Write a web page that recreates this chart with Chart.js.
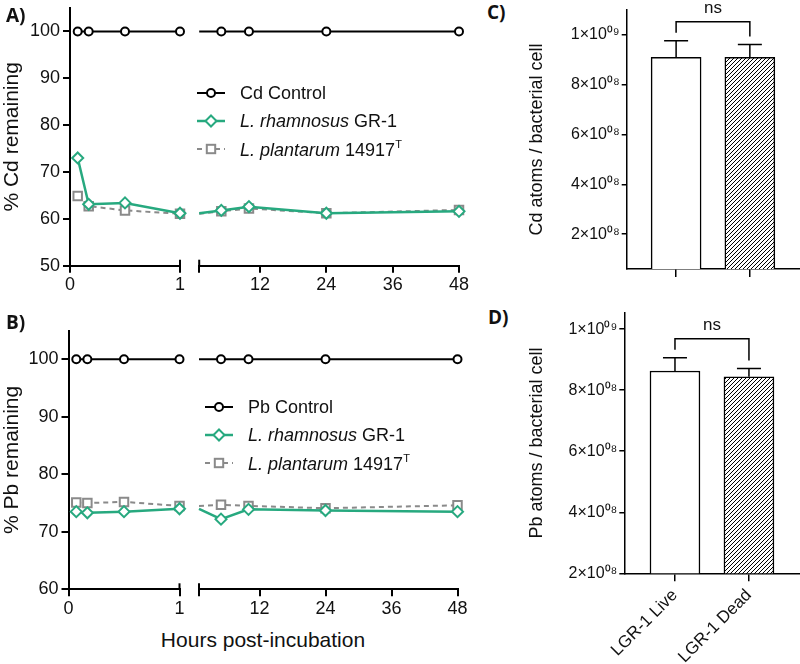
<!DOCTYPE html>
<html>
<head>
<meta charset="utf-8">
<script src="https://cdn.jsdelivr.net/npm/chart.js@4.4.0/dist/chart.umd.min.js"></script>
<style>
  body { margin: 0; background: #fff; font-family: 'Liberation Sans', Arial, sans-serif; color: #111; }
  #wrap { position: relative; width: 800px; height: 664px; overflow: hidden; }
  .box { position: absolute; }
  .tag { position: absolute; font: bold 19px 'Open Sans', sans-serif; line-height: 22px; }
  .legend { position: absolute; font-size: 18px; }
  .legend .row { height: 28px; display: flex; align-items: center; white-space: nowrap; }
  .legend svg { flex: none; }
  .legend sup { font-size: 11px; vertical-align: 8px; }
  .xtitle { position: absolute; left: 113px; top: 627px; width: 300px; text-align: center; font-size: 21px; line-height: 26px; }
</style>
</head>
<body>
<div id="wrap">
  <div class="box" id="boxA1"><canvas id="chartA1"></canvas></div>
  <div class="box" id="boxA2"><canvas id="chartA2"></canvas></div>
  <div class="box" id="boxB1"><canvas id="chartB1"></canvas></div>
  <div class="box" id="boxB2"><canvas id="chartB2"></canvas></div>
  <div class="box" id="boxC"><canvas id="chartC"></canvas></div>
  <div class="box" id="boxD"><canvas id="chartD"></canvas></div>

  <div class="tag" style="left:6px;top:4px">A)</div>
  <div class="tag" style="left:6px;top:311px">B)</div>
  <div class="tag" style="left:487px;top:1px">C)</div>
  <div class="tag" style="left:488px;top:306px">D)</div>

  <div class="legend" id="legendA" style="left:197px;top:79px"></div>
  <div class="legend" id="legendB" style="left:205px;top:393px"></div>
  <div class="xtitle">Hours post-incubation</div>
</div>

<script>
// time course (hours after incubation)
const hours = [0.07, 0.17, 0.5, 1, 5, 10, 24, 48];
const cdControl = [100, 100, 100, 100, 100, 100, 100, 100];
const cdRhamnosus = [73.0, 63.1, 63.4, 61.2, 61.8, 62.6, 61.2, 61.6];
const cdPlantarum = [64.9, 62.7, 61.8, 61.1, 61.6, 62.2, 61.2, 61.9];
const pbControl = [100, 100, 100, 100, 100, 100, 100, 100];
const pbRhamnosus = [73.5, 73.3, 73.5, 74.0, 72.2, 73.9, 73.7, 73.5];
const pbPlantarum = [75.1, 75.0, 75.2, 74.5, 74.7, 74.5, 74.1, 74.6];

const firstSegmentTicks = [0, 1];
const secondSegmentTicks = [1, 12, 24, 36, 48];
const cdTicks = [50, 60, 70, 80, 90, 100];
const pbTicks = [60, 70, 80, 90, 100];

// atoms per bacterial cell
const groups = ['LGR-1 Live', 'LGR-1 Dead'];
const cdAtoms = [9.1e8, 9.1e8];
const cdAtomsErr = [0.67e8, 0.51e8];
const pbAtoms = [8.63e8, 8.44e8];
const pbAtomsErr = [0.43e8, 0.27e8];
const atomTicks = [2e8, 4e8, 6e8, 8e8, 1e9];
const atomTickLabels = ['2×10⁰⁸', '4×10⁰⁸', '6×10⁰⁸', '8×10⁰⁸', '1×10⁰⁹'];

const GREEN = '#27a97f';
const GREY = '#8a8a8a';
const INK = '#111';
const FONT = "'Liberation Sans', Arial, sans-serif";

Chart.defaults.font.family = FONT;
Chart.defaults.color = INK;
Chart.defaults.animation = false;

function place(id, left, top, width, height) {
  const el = document.getElementById(id);
  el.style.left = left + 'px';
  el.style.top = top + 'px';
  el.style.width = width + 'px';
  el.style.height = height + 'px';
}

function seriesFor(metal, control, rhamnosus, plantarum) {
  return [
    { label: metal + ' Control', values: control, color: '#000', width: 2, dash: [], marker: 'circle', radius: 4 },
    { label: 'L. rhamnosus GR-1', values: rhamnosus, color: GREEN, width: 2.5, dash: [], marker: 'rectRot', radius: 5.5 },
    { label: 'L. plantarum 14917T', values: plantarum, color: GREY, width: 2, dash: [5, 4], marker: 'rect', radius: 6 },
  ];
}

function segmentData(values, lo, hi) {
  return hours.map((h, i) => ({ x: h, y: values[i] })).filter(p => p.x >= lo && p.x <= hi);
}

function timeDatasets(series, lo, hi, hideAt) {
  return series.map(s => ({
    label: s.label,
    data: segmentData(s.values, lo, hi),
    borderColor: s.color,
    borderWidth: s.width,
    borderDash: s.dash,
    pointStyle: s.marker,
    pointRadius: ctx => (ctx.raw && ctx.raw.x === hideAt) ? 0 : s.radius,
    pointBackgroundColor: '#fff',
    pointBorderColor: s.color,
    pointBorderWidth: 2,
    tension: 0,
    clip: false,
  }));
}

// little upward caps where the x axis is broken
const breakCapsPlugin = {
  id: 'breakCaps',
  afterDraw(chart, args, opts) {
    const ctx = chart.ctx;
    const x = chart.scales.x;
    const bottom = chart.chartArea.bottom;
    ctx.save();
    ctx.strokeStyle = '#000';
    ctx.lineWidth = 2;
    (opts.at || []).forEach(v => {
      const px = x.getPixelForValue(v);
      ctx.beginPath();
      ctx.moveTo(px, bottom - 6);
      ctx.lineTo(px, bottom);
      ctx.stroke();
    });
    ctx.restore();
  }
};

function timeChart(canvasId, cfg) {
  const tickFont = { family: FONT, size: 18 };
  return new Chart(document.getElementById(canvasId), {
    type: 'line',
    data: { datasets: timeDatasets(cfg.series, cfg.xMin, cfg.xMax, cfg.hideAt) },
    options: {
      responsive: true,
      maintainAspectRatio: false,
      layout: { padding: { left: cfg.padLeft, right: cfg.padRight, top: cfg.padTop, bottom: 0 } },
      plugins: { legend: { display: false }, tooltip: { enabled: false }, breakCaps: { at: [cfg.breakAt] } },
      scales: {
        x: {
          type: 'linear',
          min: cfg.xMin,
          max: cfg.xMax,
          afterBuildTicks: s => { s.ticks = cfg.xTicks.map(v => ({ value: v })); },
          afterFit: s => { s.height = cfg.xHeight; s.paddingLeft = 0; s.paddingRight = 0; },
          ticks: {
            font: tickFont, color: INK, padding: 2, maxRotation: 0, autoSkip: false,
            callback: v => (v === cfg.hideAt ? '' : String(v)),
          },
          grid: { drawOnChartArea: false, tickLength: 7, color: '#000', lineWidth: 2 },
          border: { color: '#000', width: 2 },
        },
        y: {
          display: cfg.showY,
          min: cfg.yMin,
          max: 105,
          afterBuildTicks: s => { s.ticks = cfg.yTicks.map(v => ({ value: v })); },
          afterFit: s => { s.width = cfg.yWidth; s.paddingTop = 0; s.paddingBottom = 0; },
          ticks: { font: tickFont, color: INK, padding: 3 },
          grid: { drawOnChartArea: false, tickLength: 7, color: '#000', lineWidth: 2 },
          border: { color: '#000', width: 2 },
          title: { display: true, text: cfg.yTitle, font: { family: FONT, size: 21 }, color: INK, padding: { top: 0, bottom: 0 } },
        },
      },
    },
    plugins: [breakCapsPlugin],
  });
}

function timeRow(prefix, g, series, yMin, yTicks, yTitle) {
  const h = g.height;
  const xHeight = h - (g.plotBottom - g.top);
  place('box' + prefix + '1', 0, g.top, 190, h);
  place('box' + prefix + '2', 190, g.top, 290, h);
  timeChart('chart' + prefix + '1', {
    series, xMin: 0, xMax: 1, hideAt: null, breakAt: 1, xTicks: firstSegmentTicks,
    yMin, yTicks, yTitle, showY: true, yWidth: g.axisX,
    padLeft: 0, padRight: 190 - g.seg1Right, padTop: g.plotTop - g.top, xHeight,
  });
  timeChart('chart' + prefix + '2', {
    series, xMin: 1, xMax: 48, hideAt: 1, breakAt: 1, xTicks: secondSegmentTicks,
    yMin, yTicks, yTitle, showY: false, yWidth: 0,
    padLeft: g.seg2Left - 190, padRight: 480 - g.seg2Right, padTop: g.plotTop - g.top, xHeight,
  });
}

const cdSeries = seriesFor('Cd', cdControl, cdRhamnosus, cdPlantarum);
const pbSeries = seriesFor('Pb', pbControl, pbRhamnosus, pbPlantarum);

timeRow('A', { top: 0, height: 300, plotTop: 7.5, plotBottom: 265.7, axisX: 70, seg1Right: 180, seg2Left: 199.2, seg2Right: 459 },
  cdSeries, 50, cdTicks, '% Cd remaining');
timeRow('B', { top: 320, height: 300, plotTop: 330.5, plotBottom: 589.3, axisX: 68.5, seg1Right: 179.5, seg2Left: 199, seg2Right: 457.5 },
  pbSeries, 60, pbTicks, '% Pb remaining');

// legend markup
function legendSymbol(s, w) {
  const c = w / 2;
  let mark = '';
  if (s.marker === 'circle') mark = `<circle cx="${c}" cy="7" r="4" fill="#fff" stroke="${s.color}" stroke-width="2"/>`;
  if (s.marker === 'rectRot') mark = `<polygon points="${c},1.5 ${c + 5.5},7 ${c},12.5 ${c - 5.5},7" fill="#fff" stroke="${s.color}" stroke-width="2"/>`;
  if (s.marker === 'rect') mark = `<rect x="${c - 4.2}" y="2.8" width="8.4" height="8.4" fill="#fff" stroke="${s.color}" stroke-width="2"/>`;
  const dash = s.dash.length ? `stroke-dasharray="${s.dash.join(' ')}"` : '';
  return `<svg width="${w}" height="14"><line x1="0" y1="7" x2="${w}" y2="7" stroke="${s.color}" stroke-width="${s.width}" ${dash}/>${mark}</svg>`;
}
function legendLabel(s) {
  if (s.label.startsWith('L. rhamnosus')) return '<i>L. rhamnosus</i>&nbsp;GR-1';
  if (s.label.startsWith('L. plantarum')) return '<i>L. plantarum</i>&nbsp;14917<sup>T</sup>';
  return s.label;
}
function buildLegend(id, series, w, gap) {
  document.getElementById(id).innerHTML = series.map(s =>
    `<div class="row">${legendSymbol(s, w)}<span style="margin-left:${gap}px">${legendLabel(s)}</span></div>`).join('');
}
buildLegend('legendA', cdSeries, 28, 15);
buildLegend('legendB', pbSeries, 28, 15);

// bar charts
function hatchPattern() {
  const size = 4;
  const c = document.createElement('canvas');
  c.width = size; c.height = size;
  const g = c.getContext('2d');
  g.fillStyle = '#fff';
  g.fillRect(0, 0, size, size);
  g.strokeStyle = '#000';
  g.lineWidth = 1;
  g.beginPath();
  g.moveTo(-1, size + 1); g.lineTo(size + 1, -1);
  g.moveTo(-1, 1); g.lineTo(1, -1);
  g.moveTo(size - 1, size + 1); g.lineTo(size + 1, size - 1);
  g.stroke();
  return g.createPattern(c, 'repeat');
}

const errorBarsPlugin = {
  id: 'errorBars',
  afterDatasetsDraw(chart, args, opts) {
    const ctx = chart.ctx;
    const yScale = chart.scales.y;
    const meta = chart.getDatasetMeta(0);
    const means = chart.data.datasets[0].data.map(p => p.y);
    const caps = [];
    ctx.save();
    ctx.strokeStyle = '#000';
    ctx.lineWidth = 1.5;
    meta.data.forEach((bar, i) => {
      const capY = yScale.getPixelForValue(means[i] + opts.errors[i]);
      caps.push(capY);
      ctx.beginPath();
      ctx.moveTo(bar.x, bar.y);
      ctx.lineTo(bar.x, capY);
      ctx.moveTo(bar.x - 12, capY);
      ctx.lineTo(bar.x + 12, capY);
      ctx.stroke();
    });

    // significance bracket
    const [a, b] = meta.data;
    const top = Math.min(...caps) - 19;
    ctx.beginPath();
    ctx.moveTo(a.x, caps[0] - 8);
    ctx.lineTo(a.x, top);
    ctx.lineTo(b.x, top);
    ctx.lineTo(b.x, caps[1] - 8);
    ctx.stroke();
    ctx.fillStyle = INK;
    ctx.font = `17px ${FONT}`;
    ctx.textAlign = 'center';
    ctx.fillText('ns', (a.x + b.x) / 2, top - 9);
    ctx.restore();
  }
};

function barChart(canvasId, cfg) {
  return new Chart(document.getElementById(canvasId), {
    type: 'bar',
    data: {
      datasets: [{
        data: groups.map((g, i) => ({ x: i + 1, y: cfg.values[i] })),
        backgroundColor: ['#fff', hatchPattern()],
        borderColor: '#000',
        borderWidth: 1.5,
        barThickness: 50,
      }]
    },
    options: {
      responsive: true,
      maintainAspectRatio: false,
      layout: { padding: { left: 0, right: 0, top: cfg.padTop, bottom: 0 } },
      plugins: { legend: { display: false }, tooltip: { enabled: false }, errorBars: { errors: cfg.errors } },
      scales: {
        x: {
          type: 'linear',
          offset: false,
          min: cfg.xMin,
          max: cfg.xMax,
          afterBuildTicks: s => { s.ticks = groups.map((g, i) => ({ value: i + 1 })); },
          afterFit: s => { s.height = cfg.xHeight; s.paddingLeft = 0; s.paddingRight = 0; },
          ticks: {
            font: { family: FONT, size: 17 }, color: INK, padding: 4, autoSkip: false,
            minRotation: cfg.showLabels ? 45 : 0, maxRotation: cfg.showLabels ? 45 : 0,
            callback: v => (cfg.showLabels ? groups[v - 1] : ''),
          },
          grid: { offset: false, drawOnChartArea: false, tickLength: 8, color: '#000', lineWidth: 1.5 },
          border: { color: '#000', width: 1.5 },
        },
        y: {
          min: cfg.yMin,
          max: cfg.yMax,
          afterBuildTicks: s => { s.ticks = atomTicks.map(v => ({ value: v })); },
          afterFit: s => { s.width = cfg.yWidth; s.paddingTop = 0; s.paddingBottom = 0; },
          ticks: {
            font: { family: FONT, size: 16 }, color: INK, padding: 2,
            callback: v => atomTickLabels[atomTicks.indexOf(v)],
          },
          grid: { drawOnChartArea: false, tickLength: 5, color: '#000', lineWidth: 1.5 },
          border: { color: '#000', width: 1.5 },
          title: { display: true, text: cfg.yTitle, font: { family: FONT, size: 18 }, color: INK, padding: { top: 6, bottom: 0 } },
        },
      },
    },
    plugins: [errorBarsPlugin],
  });
}

place('boxC', 520, 0, 280, 300);
barChart('chartC', {
  values: cdAtoms, errors: cdAtomsErr, yTitle: 'Cd atoms / bacterial cell',
  yMin: 6e7, yMax: 1.1e9, xMin: 0.33, xMax: 2.68, showLabels: false,
  padTop: 10, yWidth: 106.7, xHeight: 300 - 269,
});

place('boxD', 520, 300, 280, 364);
barChart('chartD', {
  values: pbAtoms, errors: pbAtomsErr, yTitle: 'Pb atoms / bacterial cell',
  yMin: 2e8, yMax: 1.054e9, xMin: 0.315, xMax: 2.69, showLabels: true,
  padTop: 12.7, yWidth: 104.3, xHeight: 364 - 273.3,
});
</script>
</body>
</html>
